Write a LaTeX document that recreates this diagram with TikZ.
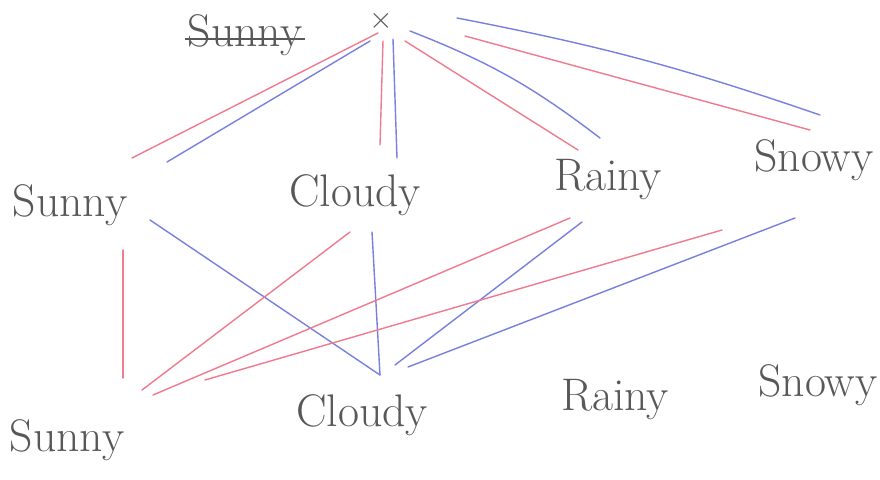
\documentclass[tikz,border=0pt]{standalone}
\usepackage{tikz}
\usetikzlibrary{calc}
\definecolor{penred}{RGB}{240,122,142}
\definecolor{penblue}{RGB}{120,128,222}
\definecolor{pencil}{RGB}{88,88,88}

\begin{document}
\begin{tikzpicture}[x=0.02cm,y=-0.02cm,
  word/.style={text=pencil,font=\fontsize{26}{30}\selectfont,inner sep=0pt},
  rline/.style={penred,line width=0.8pt,line cap=round},
  bline/.style={penblue,line width=0.8pt,line cap=round}]
\useasboundingbox (0,0) rectangle (880,480);

% first guess, crossed out
\node[word] (old) at (245,35) {Sunny};
\draw[pencil,line width=1pt] ([shift={(-2,-7)}]old.base west) -- ([shift={(2,-7)}]old.base east);
\node[text=pencil,font=\LARGE] (root) at (381,21) {$\times$};

% upper row
\node[word] (sunA) at (70,205) {Sunny};
\node[word] (cloA) at (355,195) {Cloudy};
\node[word] (raiA) at (608,180) {Rainy};
\node[word] (snoA) at (814,160) {Snowy};

% lower row
\node[word] (sunB) at (67,440) {Sunny};
\node[word] (cloB) at (362,415) {Cloudy};
\node[word] (raiB) at (615,400) {Rainy};
\node[word] (snoB) at (818,385) {Snowy};

% root to upper row
\draw[rline] ([shift={(-3,12)}]root.center) -- ([shift={(62,-47)}]sunA.center);
\draw[bline] ([shift={(-11,20)}]root.center) -- ([shift={(97,-43)}]sunA.center);
\draw[rline] ([shift={(2,20)}]root.center) -- ([shift={(25,-50)}]cloA.center);
\draw[bline] ([shift={(12,18)}]root.center) -- ([shift={(42,-37)}]cloA.center);
\draw[rline] ([shift={(24,20)}]root.center) -- ([shift={(-30,-30)}]raiA.center);
\draw[bline] ([shift={(29,10)}]root.center) to[bend left=8] ([shift={(-8,-42)}]raiA.center);
\draw[bline] ([shift={(76,-3)}]root.center) to[bend left=4] ([shift={(6,-45)}]snoA.center);
\draw[rline] ([shift={(84,15)}]root.center) -- ([shift={(-4,-30)}]snoA.center);

% upper row to lower row
\draw[rline] ([shift={(53,45)}]sunA.center) -- ([shift={(56,-62)}]sunB.center);
\draw[bline] ([shift={(80,15)}]sunA.center) -- ([shift={(18,-40)}]cloB.center);
\draw[rline] ([shift={(-5,37)}]cloA.center) -- ([shift={(75,-50)}]sunB.center);
\draw[bline] ([shift={(17,37)}]cloA.center) -- ([shift={(18,-40)}]cloB.center);
\draw[rline] ([shift={(-38,38)}]raiA.center) -- ([shift={(86,-45)}]sunB.center);
\draw[bline] ([shift={(-26,42)}]raiA.center) -- ([shift={(33,-50)}]cloB.center);
\draw[rline] ([shift={(-92,70)}]snoA.center) -- ([shift={(138,-60)}]sunB.center);
\draw[bline] ([shift={(-19,58)}]snoA.center) -- ([shift={(46,-48)}]cloB.center);
\end{tikzpicture}
\end{document}
